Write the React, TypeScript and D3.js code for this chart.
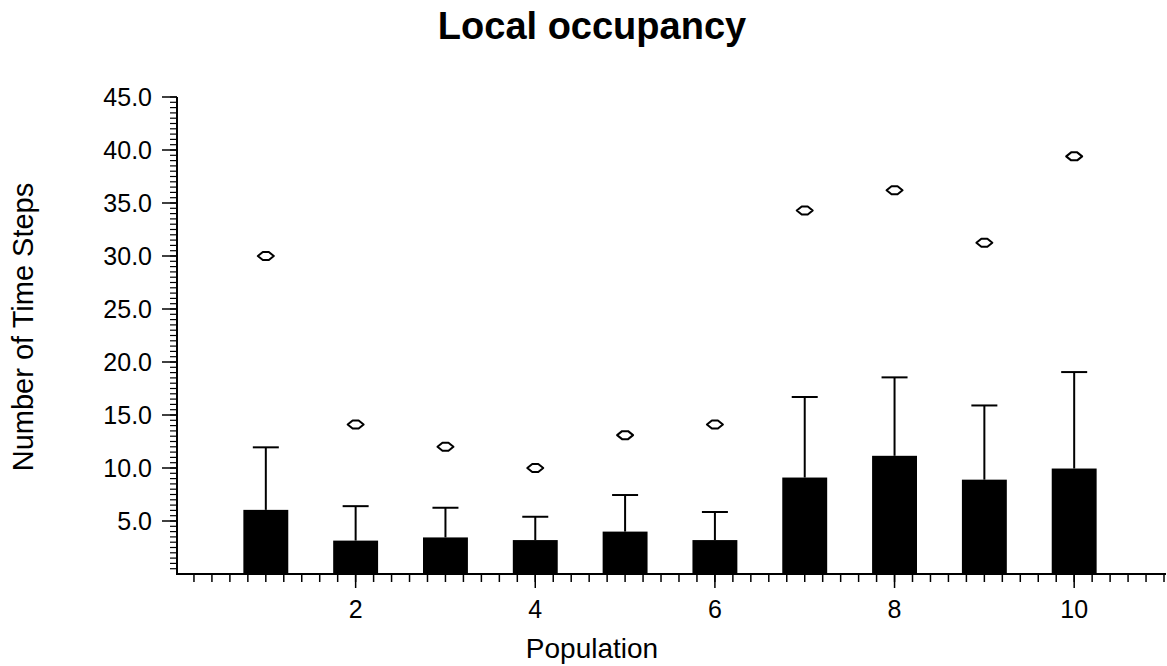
import React from "react";
import * as d3 from "d3";

const categories = [1, 2, 3, 4, 5, 6, 7, 8, 9, 10];
const means = [6.05, 3.15, 3.45, 3.2, 4.0, 3.2, 9.1, 11.15, 8.9, 9.95];
const upperErrors = [11.95, 6.4, 6.25, 5.4, 7.45, 5.85, 16.7, 18.55, 15.9, 19.05];
const maxima = [30.0, 14.1, 12.0, 10.0, 13.1, 14.1, 34.3, 36.2, 31.25, 39.4];
const yTicks = [5, 10, 15, 20, 25, 30, 35, 40, 45];
const xTicks = [2, 4, 6, 8, 10];

const W = 1167;
const H = 666;
const FONT = "'Liberation Sans', Arial, sans-serif";

export default function App() {
  const x = d3.scaleLinear().domain([0, 11]).range([176, 1164]);
  const y = d3.scaleLinear().domain([0, 45]).range([574, 97]);
  const fmt = d3.format(".1f");
  const barW = x(0.5) - x(0);
  const capW = 26;

  const yMinor = d3.range(0, 45.001, 0.5).filter((v) => v > 0);
  const xMinor = d3.range(0.2, 11.001, 0.2).map((v) => Math.round(v * 10) / 10);

  const marker = "M -8 0 L -3 -4 L 3 -4 L 8 0 L 3 4 L -3 4 Z";

  return (
    <div style={{ position: "absolute", left: 0, top: 0 }}>
      <svg width={W} height={H} style={{ display: "block", background: "#fff" }}>
        <rect width={W} height={H} fill="#fff" />
        <text x={592} y={39} textAnchor="middle" fontFamily={FONT} fontSize={38} fontWeight="bold" fill="#000">
          Local occupancy
        </text>

        {/* bars */}
        {categories.map((c, i) => (
          <rect key={"b" + c} x={x(c) - barW / 2} y={y(means[i])} width={barW} height={y(0) - y(means[i])} fill="#000" />
        ))}
        {/* error bars */}
        {categories.map((c, i) => (
          <g key={"e" + c} stroke="#000" strokeWidth={2}>
            <line x1={x(c)} x2={x(c)} y1={y(means[i])} y2={y(upperErrors[i])} />
            <line x1={x(c) - capW / 2} x2={x(c) + capW / 2} y1={y(upperErrors[i])} y2={y(upperErrors[i])} />
          </g>
        ))}
        {/* maxima markers */}
        {categories.map((c, i) => (
          <path key={"m" + c} d={marker} transform={`translate(${x(c)},${y(maxima[i])})`} fill="#fff" stroke="#000" strokeWidth={2} strokeLinejoin="round" />
        ))}

        {/* y axis */}
        <line x1={177} x2={177} y1={y(0) + 1} y2={y(45)} stroke="#000" strokeWidth={2} />
        {yMinor.map((v) => (
          <line key={"ym" + v} x1={170} x2={177} y1={y(v)} y2={y(v)} stroke="#000" strokeWidth={1.2} />
        ))}
        {yTicks.map((v) => (
          <g key={"yt" + v}>
            <line x1={162} x2={177} y1={y(v)} y2={y(v)} stroke="#000" strokeWidth={1.5} />
            <text x={152} y={y(v) + 9} textAnchor="end" fontFamily={FONT} fontSize={25} fill="#000">
              {fmt(v)}
            </text>
          </g>
        ))}

        {/* x axis */}
        <line x1={176} x2={1166} y1={574} y2={574} stroke="#000" strokeWidth={2} />
        {xMinor.map((v) => (
          <line key={"xm" + v} x1={x(v)} x2={x(v)} y1={574} y2={582} stroke="#000" strokeWidth={1.5} />
        ))}
        {xTicks.map((v) => (
          <g key={"xt" + v}>
            <line x1={x(v)} x2={x(v)} y1={574} y2={588} stroke="#000" strokeWidth={1.5} />
            <text x={x(v)} y={618} textAnchor="middle" fontFamily={FONT} fontSize={25} fill="#000">
              {v}
            </text>
          </g>
        ))}

        <text x={592} y={658} textAnchor="middle" fontFamily={FONT} fontSize={28} fill="#000">
          Population
        </text>
        <text transform="translate(33,327) rotate(-90)" textAnchor="middle" fontFamily={FONT} fontSize={29} fill="#000">
          Number of Time Steps
        </text>
      </svg>
    </div>
  );
}
